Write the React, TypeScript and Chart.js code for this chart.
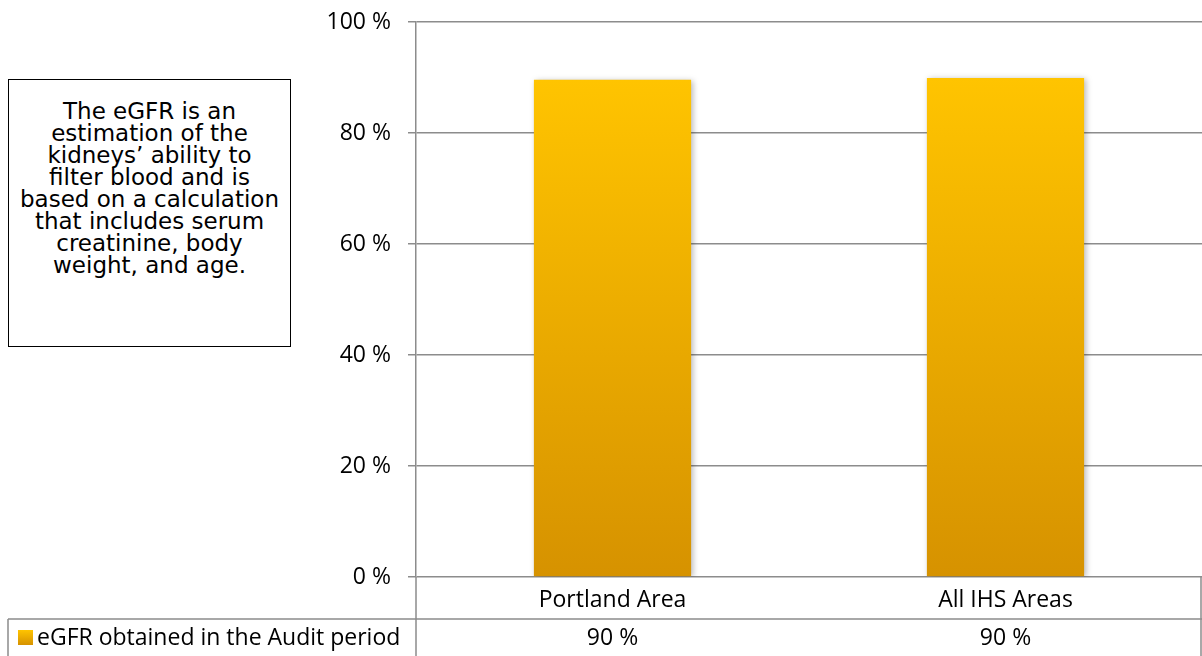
import React, { useEffect, useRef } from "react";
import { Chart, registerables } from "chart.js";

Chart.register(...registerables);

// ---- data ----
const categories = ["Portland Area", "All IHS Areas"];
const seriesName = "eGFR obtained in the Audit period";
const seriesValues = [89.6, 89.9];
const yTickValues = [0, 20, 40, 60, 80, 100];
const noteLines = [
  "The eGFR is an",
  "estimation of the",
  "kidneys’ ability to",
  "filter blood and is",
  "based on a calculation",
  "that includes serum",
  "creatinine, body",
  "weight, and age.",
];

const W = 1202;
const H = 656;
const FONT = "'Open Sans', sans-serif";
const FSIZE = 23;
const GRID = "#8c8c8c";
const TOP_COLOR = "#FFC400";
const BOTTOM_COLOR = "#D69200";

const fmt = (v: number) => `${Math.round(v)} %`;

function makeGradient(ctx: CanvasRenderingContext2D, top: number, bottom: number) {
  const g = ctx.createLinearGradient(0, top, 0, bottom);
  g.addColorStop(0, TOP_COLOR);
  g.addColorStop(1, BOTTOM_COLOR);
  return g;
}

const shadowPlugin = {
  id: "barShadow",
  beforeDatasetsDraw(chart: any) {
    const ctx = chart.ctx;
    ctx.save();
    ctx.shadowColor = "rgba(0,0,0,0.28)";
    ctx.shadowBlur = 6;
    ctx.shadowOffsetX = 2;
    ctx.shadowOffsetY = 1;
  },
  afterDatasetsDraw(chart: any) {
    chart.ctx.restore();
  },
};

const tablePlugin = {
  id: "dataTable",
  afterDraw(chart: any) {
    const { ctx, chartArea, scales } = chart;
    const xs = scales.x;
    const bottom = H;
    const rowTop = chartArea.bottom + 42;
    const tableLeft = 8;
    const right = W - 1;
    ctx.save();
    ctx.strokeStyle = GRID;
    ctx.lineWidth = 1.5;
    ctx.beginPath();
    ctx.moveTo(tableLeft, rowTop);
    ctx.lineTo(W, rowTop);
    ctx.moveTo(tableLeft, rowTop);
    ctx.lineTo(tableLeft, bottom);
    ctx.moveTo(chartArea.left, chartArea.bottom);
    ctx.lineTo(chartArea.left, bottom);
    ctx.moveTo(right, chartArea.bottom);
    ctx.lineTo(right, bottom);
    ctx.stroke();

    const midY = (rowTop + bottom) / 2;
    const kx = 18, ks = 15;
    ctx.fillStyle = makeGradient(ctx, midY - ks / 2, midY + ks / 2);
    ctx.fillRect(kx, midY - ks / 2, ks, ks);
    ctx.fillStyle = "#000";
    ctx.font = `${FSIZE}px ${FONT}`;
    ctx.textBaseline = "middle";
    ctx.textAlign = "left";
    ctx.fillText(seriesName, kx + ks + 4, midY + 1);
    ctx.textAlign = "center";
    seriesValues.forEach((v, i) => {
      ctx.fillText(fmt(v), xs.getPixelForValue(i), midY + 1);
    });
    ctx.restore();
  },
};

export default function App() {
  const canvasRef = useRef<HTMLCanvasElement | null>(null);

  useEffect(() => {
    const canvas = canvasRef.current;
    if (!canvas) return;
    const chart = new Chart(canvas, {
      type: "bar",
      data: {
        labels: categories,
        datasets: [
          {
            label: seriesName,
            data: seriesValues,
            backgroundColor: (c: any) => {
              const ch = c.chart;
              const ca = ch.chartArea;
              if (!ca) return TOP_COLOR;
              const top = ch.scales.y.getPixelForValue(c.raw ?? 100);
              return makeGradient(ch.ctx, top, ca.bottom);
            },
            borderWidth: 0,
            categoryPercentage: 1,
            barPercentage: 0.4,
          },
        ],
      },
      options: {
        responsive: false,
        animation: false,
        devicePixelRatio: 1,
        layout: { padding: { top: 22, left: 0, right: 0, bottom: 0 } },
        plugins: {
          legend: { display: false },
          tooltip: { enabled: false },
          title: { display: false },
        },
        scales: {
          x: {
            grid: { display: false, drawTicks: false },
            border: { display: false },
            ticks: {
              color: "#000",
              font: { family: FONT, size: FSIZE },
              padding: 10,
            },
            afterFit: (s: any) => {
              s.height = 79;
              s.paddingLeft = 0;
              s.paddingRight = 0;
            },
          },
          y: {
            min: 0,
            max: 100,
            afterBuildTicks: (s: any) => {
              s.ticks = yTickValues.map((v) => ({ value: v }));
            },
            grid: { color: GRID, lineWidth: 1.5, tickLength: 8, drawTicks: true },
            border: { display: true, color: GRID, width: 1.5 },
            ticks: {
              color: "#000",
              font: { family: FONT, size: FSIZE },
              padding: 17,
              callback: (v: any) => fmt(Number(v)),
            },
            afterFit: (s: any) => {
              s.width = 416;
              s.paddingTop = 0;
              s.paddingBottom = 0;
            },
          },
        },
      },
      plugins: [shadowPlugin, tablePlugin],
    } as any);
    return () => chart.destroy();
  }, []);

  return (
    <div style={{ position: "absolute", left: 0, top: 0, width: W, height: H, background: "#fff" }}>
      <canvas ref={canvasRef} width={W} height={H} style={{ display: "block", width: W, height: H }} />
      <div
        style={{
          position: "absolute",
          left: 8,
          top: 79,
          width: 283,
          height: 268,
          boxSizing: "border-box",
          border: "1.5px solid #000",
          background: "#fff",
          textAlign: "center",
          fontFamily: "'DejaVu Sans', sans-serif",
          fontSize: 23,
          lineHeight: "22px",
          paddingTop: 20,
          color: "#000",
        }}
      >
        {noteLines.map((l, i) => (
          <div key={i} style={{ whiteSpace: "nowrap" }}>{l}</div>
        ))}
      </div>
    </div>
  );
}
